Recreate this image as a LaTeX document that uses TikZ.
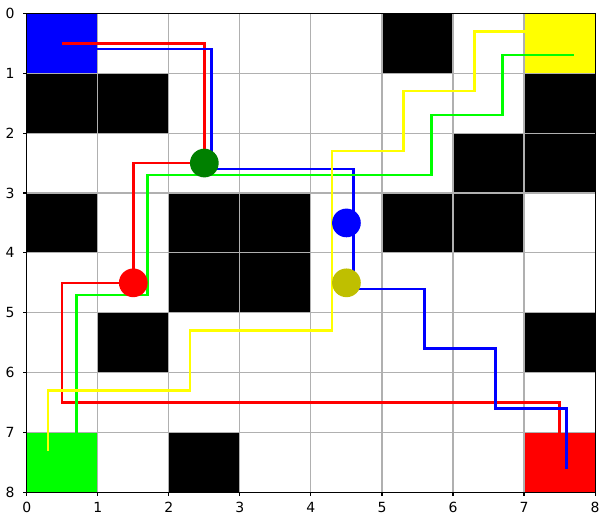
\documentclass[tikz,border=0pt]{standalone}
\usepackage{fontspec}
\setmainfont{DejaVu Sans}
\usepackage{tikz}
\usetikzlibrary{positioning}
\definecolor{gridgray}{HTML}{B0B0B0}
\definecolor{agentR}{HTML}{FF0000}
\definecolor{agentB}{HTML}{0000FF}
\definecolor{agentG}{HTML}{00FF00}
\definecolor{agentY}{HTML}{FFFF00}
\definecolor{markG}{HTML}{008000}
\definecolor{markY}{HTML}{BFBF00}

\begin{document}
\begin{tikzpicture}[
  x=1cm, y=-0.843cm,
  font=\fontsize{5.6}{6.5}\selectfont,
  wall/.style={fill=black},
  gridline/.style={draw=gridgray, line width=0.45pt},
  spine/.style={draw=black, line width=0.45pt},
  tick/.style={draw=black, line width=0.45pt},
  ticklabel/.style={inner sep=0pt},
  route/.style={line width=1pt},
  agent/.style={circle, inner sep=0pt, minimum size=0.404cm}
]
  \useasboundingbox (-0.376,-0.222) rectangle (8.252,8.509);

  % start and goal cells
  \fill[agentB] (0,0) rectangle (1,1);
  \fill[agentY] (7,0) rectangle (8,1);
  \fill[agentG] (0,7) rectangle (1,8);
  \fill[agentR] (7,7) rectangle (8,8);

  % obstacles
  \foreach \cx/\cy in {5/0, 0/1, 1/1, 7/1, 6/2, 7/2, 0/3, 2/3, 3/3, 5/3, 6/3,
                       2/4, 3/4, 1/5, 7/5, 2/7}
    \fill[wall] (\cx,\cy) rectangle ++(1,1);

  % grid and axes
  \foreach \t in {1,...,7} {
    \draw[gridline] (\t,0) -- (\t,8);
    \draw[gridline] (0,\t) -- (8,\t);
  }
  \draw[spine] (0,0) rectangle (8,8);
  \foreach \t in {0,...,8} {
    \draw[tick] (\t,8) -- ++(0,0.055);
    \node[ticklabel, anchor=north] (xl\t) at (\t,8.16) {\t};
    \draw[tick] (0,\t) -- ++(-0.047,0);
    \node[ticklabel, anchor=east] (yl\t) at (-0.165,\t) {\t};
  }

  % planned routes
  \draw[route, agentR] (0.5,0.5) -| (2.5,2.5) -| (1.5,4.5) -| (0.5,6.5) -| (7.5,7.5);
  \draw[route, agentB] (0.6,0.6) -| (2.6,2.6) -| (4.6,4.6) -| (5.6,5.6) -| (6.6,6.6) -| (7.6,7.6);
  \draw[route, agentG] (7.7,0.7) -| (6.7,1.7) -| (5.7,2.7) -| (1.7,4.7) -| (0.7,7.7);
  \draw[route, agentY] (7.3,0.3) -| (6.3,1.3) -| (5.3,2.3) -| (4.3,5.3) -| (2.3,6.3) -| (0.3,7.3);

  % current positions
  \node[agent, fill=markG] (posG) at (2.5,2.5) {};
  \node[agent, fill=agentB] (posB) at (4.5,3.5) {};
  \node[agent, fill=markY] (posY) at (4.5,4.5) {};
  \node[agent, fill=agentR] (posR) at (1.5,4.5) {};
\end{tikzpicture}
\end{document}
